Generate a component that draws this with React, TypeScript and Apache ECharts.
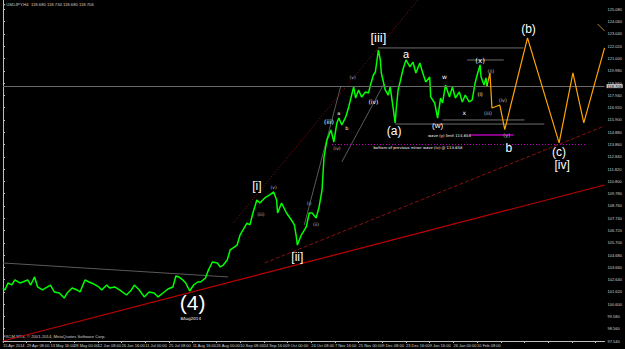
import React, { useEffect, useRef } from "react";
import * as echarts from "echarts";

// ---- data ----
const timeLabels = [
  "15 Apr 2014", "29 Apr 08:00", "13 May 16:00", "28 May 00:00", "12 Jun 08:00",
  "26 Jun 16:00", "11 Jul 00:00", "25 Jul 08:00", "11 Aug 16:00", "26 Aug 00:00",
  "10 Sep 08:00", "24 Sep 16:00", "9 Oct 00:00", "24 Oct 08:00", "7 Nov 16:00",
  "25 Nov 00:00", "9 Dec 08:00", "23 Dec 16:00", "9 Jan 16:00", "26 Jan 00:00",
  "10 Feb 08:00",
];
const barMax = 609;
const labelEveryBars = 24;
const priceMin = 97.54;
const priceMax = 125.862;
const priceStep = 1.02;
const bidPrice = 118.706;

const priceBars = [
  0, 2, 5, 9, 12, 17, 20, 25, 28, 32, 35, 40, 45, 48, 52, 57, 62, 65, 70, 75, 78, 83, 87, 92, 97,
  100, 105, 108, 113, 118, 125, 130, 133, 138, 143, 148, 153, 157, 162, 167, 172, 175, 178, 182,
  185, 189, 193, 197, 200, 205, 208, 212, 217, 220, 223, 227, 230, 233, 237, 240, 243, 247, 250,
  253, 257, 260, 265, 270, 274, 277, 278, 282, 287, 292, 295, 297, 298, 302, 307, 310, 313, 317,
  320, 323, 325, 328, 332, 335, 338, 340, 343, 347, 350, 353, 355, 357, 360, 363, 367, 370, 372,
  375, 377, 380, 382, 383, 387, 390, 392, 395, 397, 398, 400, 402, 405, 408, 412, 415, 418, 422,
  425, 428, 432, 433, 437, 440, 443, 445, 448, 452, 455, 458, 462, 465, 468, 472, 475, 478, 480,
  483, 484, 487, 489, 490,
];
const priceClose = [
  101.94, 101.78, 102.36, 102.2, 102.61, 102.36, 102.44, 102.61, 102.19, 102.86, 102.03, 101.78,
  102.03, 102.19, 101.61, 101.53, 101.11, 101.53, 101.94, 101.78, 101.61, 102.61, 102.44, 102.27,
  102.03, 101.78, 102.19, 101.94, 102.03, 101.78, 101.36, 101.78, 102.19, 101.78, 101.2, 101.61,
  101.53, 101.2, 101.53, 101.86, 102.03, 102.94, 102.86, 102.61, 102.36, 101.69, 102.19, 102.44,
  102.44, 102.77, 103.44, 104.1, 104.02, 103.69, 103.85, 104.27, 105.1, 105.27, 105.51, 106.34,
  106.76, 107.34, 107.18, 108.17, 109.25, 109.0, 109.42, 109.67, 109.92, 109.25, 108.17, 109.0,
  108.17, 107.59, 107.18, 106.18, 105.51, 106.34, 107.01, 108.17, 108.17, 107.76, 108.67, 110.08,
  112.82, 114.24, 115.07, 114.07, 115.65, 116.06, 115.48, 116.15, 116.98, 117.97, 118.64, 117.72,
  118.39, 117.81, 118.22, 118.14, 118.8, 119.63, 119.88, 121.71, 120.88, 119.8, 118.39, 117.97,
  118.64, 116.89, 115.65, 116.73, 118.39, 119.05, 120.13, 120.88, 120.3, 120.71, 119.8, 120.63,
  119.8, 119.05, 119.47, 117.81, 117.31, 116.06, 117.72, 117.31, 118.8, 117.81, 118.64, 117.72,
  118.22, 117.39, 117.97, 117.39, 117.56, 118.97, 119.63, 120.47, 119.47, 118.8, 119.39, 118.706,
];

const projBars = [490, 493, 495, 503, 508, 531, 563, 577, 588, 609];
const projPrices = [118.706, 119.8, 116.89, 117.14, 115.1, 122.71, 113.99, 119.8, 115.65, 121.88];
const projTopBars = [602, 609];
const projTopPrices = [123.87, 123.29];

const redTrendBars = [0, 609];
const redTrendPrices = [97.54, 110.5];
const redDashedBars = [265, 609];
const redDashedPrices = [104.02, 115.4];
const redChannelBars = [233, 420];
const redChannelPrices = [107.34, 125.86];
const grayLeftBars = [0, 228];
const grayLeftPrices = [104.02, 102.86];
const grayABars = [305, 342];
const grayAPrices = [107.18, 118.72];
const grayBBars = [343, 385];
const grayBPrices = [112.41, 118.8];

const hLevels = [121.88, 120.88, 115.9, 115.56];
const hFrom = [380, 470, 445, 397];
const hTo = [527, 507, 528, 548];
const waveYLimit = 114.654;
const waveYFromTo = [472, 517];
const minorIvBottom = 113.86;
const minorIvFromTo = [333, 590];

// annotations: text, bar, price, size, colour kind
const noteTexts = [
  "(4)", "8Aug2014", "[i]", "[ii]", "[iii]", "[iv]", "a", "(a)", "b", "(b)", "(c)",
  "(w)", "w", "x", "(x)", "(i)", "(ii)", "(iii)", "(iv)", "(y)",
  "(v)", "(iii)", "(i)", "(ii)", "(iii)", "a", "b", "(iv)", "(v)", "(iv)",
  "wave (y) limit 114.654", "bottom of previous minor wave (iv) @ 113.858",
];
const noteBars = [
  192, 190, 257, 298, 380, 566, 408, 396, 512, 532, 563,
  440, 447, 467, 483, 483, 494, 491, 506, 510,
  274, 261, 310, 317, 330, 340, 348, 338, 354, 375,
  452, 420,
];
const notePrices = [
  100.7, 99.45, 110.41, 104.52, 122.71, 112.16, 121.38, 114.98, 113.57, 123.46, 113.24,
  115.4, 119.47, 116.48, 120.8, 118.06, 119.97, 116.48, 117.56, 114.65,
  110.33, 108.01, 108.92, 107.18, 115.73, 116.48, 115.23, 113.49, 119.39, 117.47,
  114.57, 113.57,
];
const noteSizes = [
  21, 4, 12, 12, 13, 12, 11, 12, 12, 12, 12,
  8, 6, 6, 7, 5, 5, 5, 5, 5,
  4.5, 4.5, 4.5, 4.5, 6, 5, 5, 4.5, 4.5, 6,
  3.8, 3.8,
];
const noteColors = [
  "w", "w", "w", "w", "w", "w", "w", "w", "w", "w", "w",
  "w", "w", "w", "w", "w", "g", "g", "g", "g",
  "g", "g", "g", "g", "w", "w", "w", "g", "g", "w",
  "w", "w",
];

function seg(bars: number[], prices: number[], color: string, width: number, type: any, z = 2) {
  return {
    type: "line",
    data: bars.map((b, i) => [b, prices[i]]),
    showSymbol: false,
    symbol: "none",
    lineStyle: { color, width, type },
    silent: true,
    z,
  };
}

export default function App() {
  const ref = useRef<HTMLDivElement>(null);
  useEffect(() => {
    const chart = echarts.init(ref.current!, null, { renderer: "svg" });
    const series: any[] = [];
    series.push(seg(grayLeftBars, grayLeftPrices, "#5a5a5a", 1, "solid"));
    series.push(seg(grayABars, grayAPrices, "#5a5a5a", 1, "solid"));
    series.push(seg(grayBBars, grayBPrices, "#5a5a5a", 1, "solid"));
    series.push(seg(redTrendBars, redTrendPrices, "#c00000", 1.2, "solid"));
    series.push(seg(redDashedBars, redDashedPrices, "#8a1010", 1, [4, 2]));
    series.push(seg(redChannelBars, redChannelPrices, "#a01010", 1, [1, 2]));
    hLevels.forEach((lv, i) => {
      series.push(seg([hFrom[i], hTo[i]], [lv, lv], "#6e6e6e", 1, "solid"));
    });
    series.push(seg(waveYFromTo, [waveYLimit, waveYLimit], "#b000b0", 1.5, "solid"));
    series.push(seg(minorIvFromTo, [minorIvBottom, minorIvBottom], "#d000d0", 1, [1, 2]));
    series.push({
      ...seg(priceBars, priceClose, "#00ff00", 1.5, "solid", 4),
      markLine: {
        symbol: "none",
        silent: true,
        lineStyle: { color: "#6a6a6a", type: "solid", width: 1 },
        label: {
          position: "end",
          formatter: bidPrice.toFixed(3),
          backgroundColor: "#c8c8c8",
          color: "#000",
          fontSize: 4,
          fontFamily: "Liberation Sans",
          padding: [0, 1, 0, 1],
          distance: 2,
        },
        data: [{ yAxis: bidPrice }],
      },
    });
    series.push(seg(projBars, projPrices, "#ffa500", 1.2, "solid", 5));
    series.push(seg(projTopBars, projTopPrices, "#c08020", 1, "solid", 5));

    const option: any = {
      animation: false,
      backgroundColor: "#000000",
      grid: { left: 0, right: 16, top: 0, bottom: 8, containLabel: false },
      xAxis: {
        type: "value",
        min: 0,
        max: barMax,
        interval: labelEveryBars,
        axisLine: { show: true, lineStyle: { color: "#bfbfbf", width: 1 } },
        axisTick: { show: true, length: 2, lineStyle: { color: "#bfbfbf" } },
        splitLine: { show: false },
        axisLabel: {
          show: true,
          align: "left",
          margin: 2,
          fontSize: 4,
          color: "#d0d0d0",
          fontFamily: "Liberation Sans",
          showMaxLabel: false,
          formatter: (v: number) => timeLabels[Math.round(v / labelEveryBars)] ?? "",
        },
      },
      yAxis: {
        type: "value",
        position: "right",
        min: priceMin,
        max: priceMax,
        interval: priceStep,
        axisLine: { show: true, lineStyle: { color: "#bfbfbf", width: 1 } },
        axisTick: { show: true, length: 2, lineStyle: { color: "#bfbfbf" } },
        splitLine: { show: false },
        axisLabel: {
          show: true,
          margin: 3,
          fontSize: 4,
          color: "#d0d0d0",
          fontFamily: "Liberation Sans",
          showMaxLabel: false,
          showMinLabel: true,
          formatter: (v: number) => v.toFixed(3),
        },
      },
      series,
    };
    chart.setOption(option);

    // annotation texts placed through the chart's own scales
    const notes = noteTexts.map((t, i) => {
      const pt = chart.convertToPixel({ gridIndex: 0 }, [noteBars[i], notePrices[i]]) as number[];
      return {
        type: "text",
        x: pt[0],
        y: pt[1],
        silent: true,
        z: 100,
        style: {
          text: t,
          fill: noteColors[i] === "w" ? "#ffffff" : "#b4bcd6",
          fontSize: noteSizes[i],
          fontFamily: noteSizes[i] >= 8 ? "Liberation Sans" : "DejaVu Sans",
          align: "center",
          verticalAlign: "middle",
        },
      };
    });
    chart.setOption({
      graphic: [
        {
          type: "text",
          left: 3,
          top: 2,
          silent: true,
          style: {
            text: "\u25BE USDJPY,H4  118.680 118.734 118.680 118.706",
            fill: "#d0d0d0",
            fontSize: 4.2,
            fontFamily: "Liberation Sans",
          },
        },
        {
          type: "text",
          left: 3,
          top: 334,
          silent: true,
          style: {
            text: "FXCM-MT4, \u00A9 2001-2014, MetaQuotes Software Corp.",
            fill: "#d0d0d0",
            fontSize: 4.2,
            fontFamily: "Liberation Sans",
          },
        },
        ...notes,
      ],
    });
    return () => chart.dispose();
  }, []);
  return (
    <div
      ref={ref}
      style={{ position: "fixed", left: 0, top: 0, width: 625, height: 349, background: "#000" }}
    />
  );
}
